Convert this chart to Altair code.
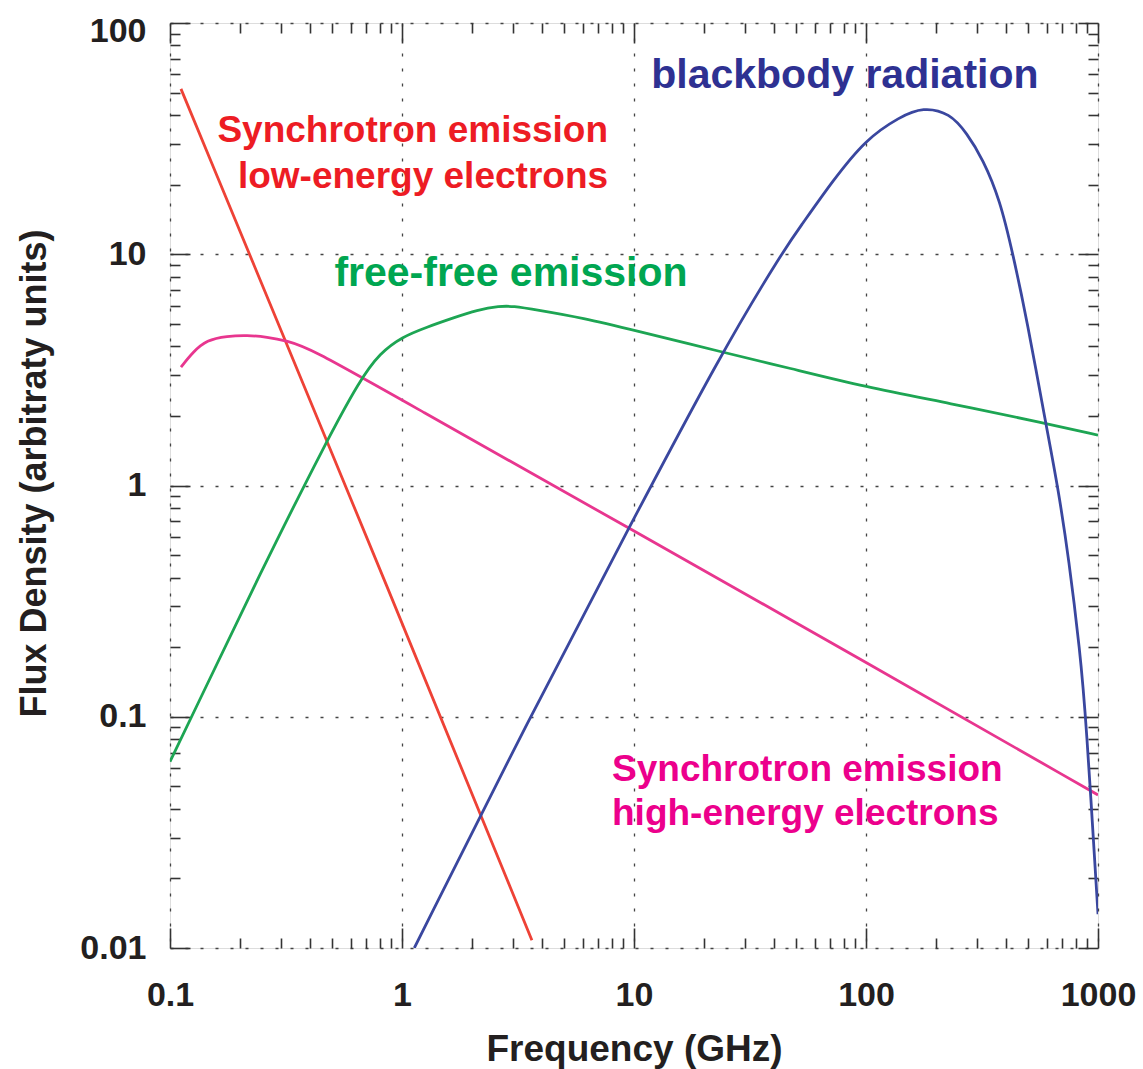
import altair as alt
import pandas as pd

# ---- emission components: frequency (GHz) and flux density (arbitrary units) ----
sync_low_freq = [0.1115, 1.0, 3.63]
sync_low_flux = [51.9, 0.257, 0.0108]

sync_high_freq = [0.1115, 0.1256, 0.144, 0.176, 0.215, 0.262, 0.319, 0.401,
                  1.0, 9.5, 100, 1000]
sync_high_flux = [3.25, 3.78, 4.26, 4.43, 4.47, 4.39, 4.22, 3.93,
                  2.34, 0.655, 0.172, 0.0459]

freefree_freq = [0.1, 0.124, 0.245, 0.475, 0.659, 0.804, 1.0, 1.28, 1.66, 2.11,
                 2.64, 3.0, 3.82, 6.03, 9.9, 23.9, 46.6, 99, 228, 591, 1000]
freefree_flux = [0.064, 0.1, 0.419, 1.57, 2.86, 3.74, 4.39, 4.84, 5.30, 5.74,
                 5.97, 5.97, 5.74, 5.30, 4.70, 3.78, 3.22, 2.67, 2.27, 1.86, 1.65]

blackbody_freq = [1.13, 3.56, 9.5, 23.9, 44.4, 52, 72.1, 100, 140, 176, 230, 272, 319,
                  378, 430, 494, 597, 670, 750, 836, 887, 1000]
blackbody_flux = [0.010, 0.100, 0.655, 3.78, 10.5, 13.1, 20.9, 31.5, 39.3, 43.3, 40.8,
                  33.4, 25.8, 17.2, 10.0, 5.2, 1.83, 1.0, 0.476, 0.192, 0.1, 0.014]

series_names = ["sync_low", "sync_high", "freefree", "blackbody"]
series_colors = ["#ee4236", "#e8368f", "#1da553", "#3a479f"]

# ---- annotation labels ----
label_text = ["Synchrotron emission\nlow-energy electrons",
              "Synchrotron emission\nhigh-energy electrons",
              "free-free emission",
              "blackbody radiation"]
label_freq = [7.73, 8.04, 2.95, 81.1]
label_flux = [30.5, 0.0527, 7.30, 52.4]
label_color = ["#ed1c24", "#ec008c", "#00a651", "#2e3192"]

# ---- axis ticks ----
x_decades = [0.1, 1, 10, 100, 1000]
y_decades = [0.01, 0.1, 1, 10, 100]
x_ticks = [m * d for d in [0.1, 1, 10, 100] for m in range(1, 10)] + [1000]
y_ticks = [m * d for d in [0.01, 0.1, 1, 10] for m in range(1, 10)] + [100]

W, H = 928, 925
FONT = "Liberation Sans"
INK = "#231f20"

rows = []
for name, fr, fl in zip(series_names,
                        [sync_low_freq, sync_high_freq, freefree_freq, blackbody_freq],
                        [sync_low_flux, sync_high_flux, freefree_flux, blackbody_flux]):
    for f, s in zip(fr, fl):
        rows.append({"series": name, "freq": f, "flux": s})
curves_df = pd.DataFrame(rows)

labels_df = pd.DataFrame({"text": label_text, "freq": label_freq,
                          "flux": label_flux, "color": label_color})

x_scale = alt.Scale(type="log", domain=[0.1, 1000], nice=False)
y_scale = alt.Scale(type="log", domain=[0.01, 100], nice=False)

major = "abs(log(datum.value)/LN10 - round(log(datum.value)/LN10)) < 0.001"
tick_len = {"condition": {"test": major, "value": 20}, "value": 10}


def tick_axis(orient, offset, values):
    return alt.Axis(orient=orient, offset=offset, values=values, labels=False,
                    title=None, domain=False, grid=False, ticks=True,
                    tickColor="#333333", tickWidth=1.6, tickSize=tick_len)


curves = alt.Chart(curves_df).mark_line(strokeWidth=2.8, clip=True, interpolate="basis").encode(
    x=alt.X("freq:Q", scale=x_scale, axis=alt.Axis(
        values=x_decades, format="~r", ticks=False, tickSize=0, domain=False,
        grid=True, gridDash=[3, 12], gridColor="#444444", gridWidth=1.3,
        labelFont=FONT, labelFontWeight="bold", labelFontSize=34, labelColor=INK,
        labelPadding=30, labelFlush=False,
        title="Frequency (GHz)", titleFont=FONT, titleFontWeight="bold",
        titleFontSize=37, titleColor=INK, titleY=112, titleBaseline="alphabetic")),
    y=alt.Y("flux:Q", scale=y_scale, axis=alt.Axis(
        values=y_decades, format="~r", ticks=False, tickSize=0, domain=False,
        grid=True, gridDash=[3, 12], gridColor="#444444", gridWidth=1.3,
        labelFont=FONT, labelFontWeight="bold", labelFontSize=34, labelColor=INK,
        labelPadding=24, labelFlush=False,
        labelOffset={"condition": {"test": "datum.value == 100", "value": 8}, "value": 0},
        title="Flux Density (arbitraty units)", titleFont=FONT, titleFontWeight="bold",
        titleFontSize=36, titleColor=INK, titleX=-125, titleY=450,
        titleBaseline="alphabetic")),
    color=alt.Color("series:N", scale=alt.Scale(domain=series_names, range=series_colors),
                    legend=None),
)

# inward ticks on all four sides
ticks_a = alt.Chart(curves_df).mark_line(opacity=0).encode(
    x=alt.X("freq:Q", scale=x_scale, axis=tick_axis("top", -H, x_ticks)),
    y=alt.Y("flux:Q", scale=y_scale, axis=tick_axis("right", -W, y_ticks)),
    detail="series:N",
)
ticks_b = alt.Chart(curves_df).mark_line(opacity=0).encode(
    x=alt.X("freq:Q", scale=x_scale, axis=tick_axis("bottom", -H, x_ticks)),
    y=alt.Y("flux:Q", scale=y_scale, axis=tick_axis("left", -W, y_ticks)),
    detail="series:N",
)


def label_layer(idx, align, size, line_height):
    return alt.Chart(labels_df.iloc[idx]).mark_text(
        font=FONT, fontWeight="bold", fontSize=size, align=align,
        baseline="alphabetic", lineBreak="\n", lineHeight=line_height,
    ).encode(
        x=alt.X("freq:Q", scale=x_scale, axis=None),
        y=alt.Y("flux:Q", scale=y_scale, axis=None),
        text="text:N",
        color=alt.Color("color:N", scale=None),
    )


texts = (label_layer([0], "right", 37, 46)
         + label_layer([1], "left", 37, 44)
         + label_layer([2, 3], "center", 41, 46))

chart = alt.layer(curves, ticks_a, ticks_b, texts).resolve_axis(
    x="independent", y="independent"
).properties(
    width=W, height=H,
    padding={"left": 170, "top": 23, "right": 45, "bottom": 121},
    autosize=alt.AutoSizeParams(type="none"),
).configure_view(
    stroke="#222222", strokeWidth=2
).configure(background="white")

chart.save("out.html", embed_options={"renderer": "svg", "actions": False})
